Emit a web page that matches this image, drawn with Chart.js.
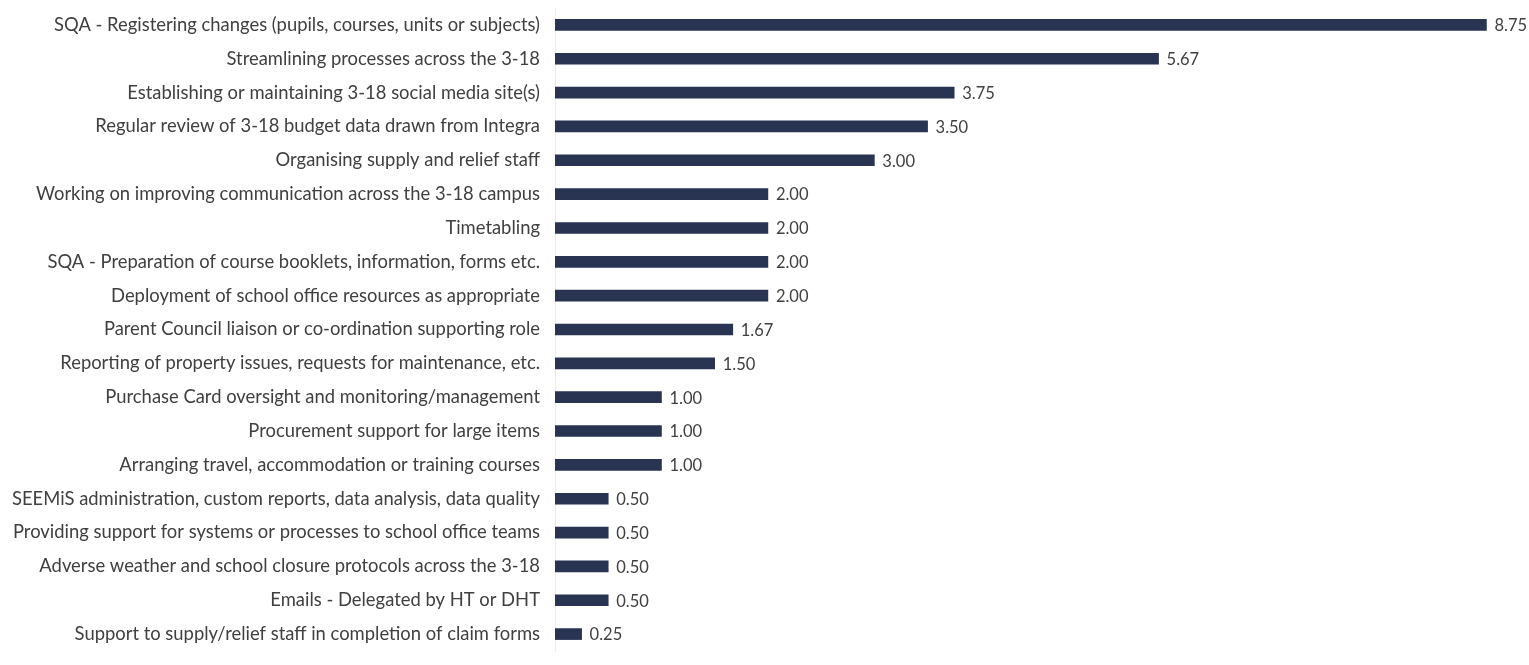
<!DOCTYPE html>
<html>
<head>
<meta charset="utf-8">
<script src="https://cdn.jsdelivr.net/npm/chart.js@4.4.0/dist/chart.umd.min.js"></script>
<style>
  html, body { margin: 0; padding: 0; background: #fff; }
  #wrap { width: 1529px; height: 665px; position: relative; }
</style>
</head>
<body>
<div id="wrap"><canvas id="myChartBar"></canvas></div>
<script>
// data
const categories = [
  "SQA - Registering changes (pupils, courses, units or subjects)",
  "Streamlining processes across the 3-18",
  "Establishing or maintaining 3-18 social media site(s)",
  "Regular review of 3-18 budget data drawn from Integra",
  "Organising supply and relief staff",
  "Working on improving communication across the 3-18 campus",
  "Timetabling",
  "SQA - Preparation of course booklets, information, forms etc.",
  "Deployment of school office resources as appropriate",
  "Parent Council liaison or co-ordination supporting role",
  "Reporting of property issues, requests for maintenance, etc.",
  "Purchase Card oversight and monitoring/management",
  "Procurement support for large items",
  "Arranging travel, accommodation or training courses",
  "SEEMiS administration, custom reports, data analysis, data quality",
  "Providing support for systems or processes to school office teams",
  "Adverse weather and school closure protocols across the 3-18",
  "Emails - Delegated by HT or DHT",
  "Support to supply/relief staff in completion of claim forms",
];
const hours = [8.75, 5.67, 3.75, 3.5, 3.0, 2.0, 2.0, 2.0, 2.0, 1.67, 1.5, 1.0, 1.0, 1.0, 0.5, 0.5, 0.5, 0.5, 0.25];

const textColor = "#404040";
const barColor = "#293352";
const fontFamily = "Lato";

// value labels at the end of each bar
const valueLabels = {
  id: "valueLabels",
  afterDatasetsDraw(chart) {
    const c = chart.ctx;
    const meta = chart.getDatasetMeta(0);
    c.save();
    c.font = "16.5px " + fontFamily;
    c.fillStyle = textColor;
    c.textAlign = "left";
    c.textBaseline = "middle";
    meta.data.forEach((bar, i) => {
      c.fillText(hours[i].toFixed(2), bar.x + 8, bar.y + 1);
    });
    c.restore();
  },
};

const ctx = document.getElementById("myChartBar");

const barChart = new Chart(ctx, {
  type: "bar",
  data: {
    labels: categories,
    datasets: [
      {
        data: hours,
        backgroundColor: barColor,
        borderWidth: 0,
        barThickness: 11,
      },
    ],
  },
  options: {
    indexAxis: "y",
    responsive: true,
    maintainAspectRatio: false,
    animation: false,
    layout: {
      padding: { top: 8, bottom: 14, left: 0, right: 0 },
    },
    scales: {
      x: {
        display: false,
        min: 0,
        max: 9.15,
      },
      y: {
        grid: { display: false, drawTicks: false },
        border: { display: true, color: "#ececec" },
        ticks: {
          color: textColor,
          padding: 15,
          font: { family: fontFamily, size: 18.4 },
        },
        afterFit(scale) {
          scale.width = 555;
          scale.paddingTop = 0;
          scale.paddingBottom = 0;
        },
      },
    },
    plugins: {
      legend: { display: false },
      tooltip: { enabled: false },
    },
  },
  plugins: [valueLabels],
});
</script>
</body>
</html>
